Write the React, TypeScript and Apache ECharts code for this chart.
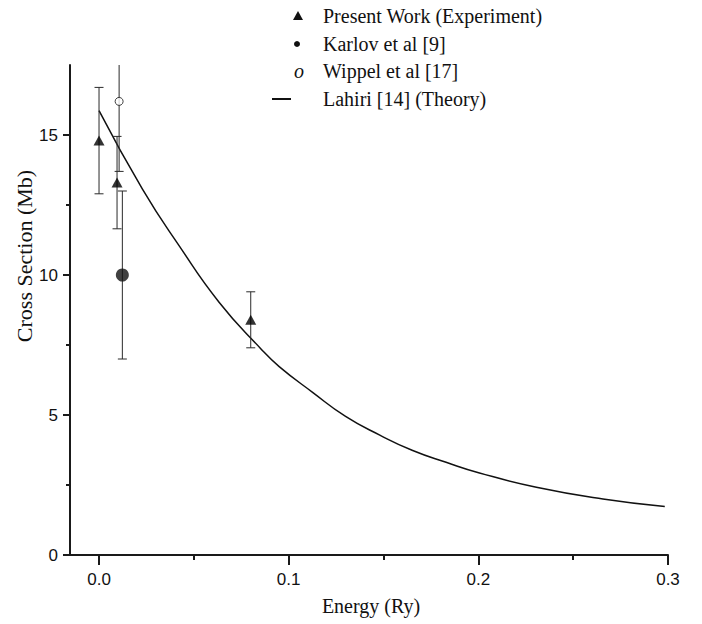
import React, { useEffect, useRef } from "react";
import * as echarts from "echarts";

// ---- data ----
const X_MIN = -0.0153;
const X_MAX = 0.3;
const Y_MIN = 0;
const Y_MAX = 17.5;
const xMajorTicks = [0, 0.1, 0.2, 0.3];
const xMinorTicks = [0.05, 0.15, 0.25];
const yMajorTicks = [0, 5, 10, 15];
const yMinorTicks = [2.5, 7.5, 12.5];

// Present Work (Experiment): energy, cross section, error
const presentE = [0, 0.0095, 0.08];
const presentV = [14.8, 13.3, 8.4];
const presentErr = [1.9, 1.65, 1.0];

// Karlov et al [9]
const karlovE = [0.0123];
const karlovV = [10.0];
const karlovErr = [3.0];

// Wippel et al [17]
const wippelE = [0.0106];
const wippelV = [16.2];
const wippelErr = [2.5];

// Lahiri [14] (Theory)
const theoryE = [0, 0.0229, 0.0422, 0.0634, 0.0854, 0.095, 0.1126, 0.13, 0.1478, 0.1654, 0.183, 0.2006, 0.2306, 0.2657, 0.2983];
const theoryV = [15.87, 13.07, 11.05, 9.02, 7.36, 6.73, 5.81, 4.95, 4.29, 3.73, 3.31, 2.93, 2.42, 2.0, 1.73];

const legendLabels = ["Present Work (Experiment)", "Karlov et al [9]", "Wippel et al [17]", "Lahiri [14] (Theory)"];

const AXIS_COLOR = "#1a1a1a";
const SANS = "'Liberation Sans', Arial, sans-serif";
const SERIF = "'Liberation Serif', 'Times New Roman', serif";

export default function App() {
  const ref = useRef<HTMLDivElement>(null);

  useEffect(() => {
    if (!ref.current) return;
    const chart = echarts.init(ref.current, null, { renderer: "svg" });

    const errData: number[][] = [];
    presentE.forEach((e, i) => errData.push([e, presentV[i] - presentErr[i], presentV[i] + presentErr[i]]));
    karlovE.forEach((e, i) => errData.push([e, karlovV[i] - karlovErr[i], karlovV[i] + karlovErr[i]]));
    wippelE.forEach((e, i) => errData.push([e, wippelV[i] - wippelErr[i], wippelV[i] + wippelErr[i]]));

    const capHalf = 4.5;
    const renderErr = (params: any, api: any) => {
      const x = api.value(0);
      const lo = api.coord([x, api.value(1)]);
      const hi = api.coord([x, api.value(2)]);
      const cs = params.coordSys;
      const top = Math.max(hi[1], cs.y);
      const bottom = Math.min(lo[1], cs.y + cs.height);
      const style = { stroke: "#2a2a2a", lineWidth: 1 };
      const children: any[] = [
        { type: "line", shape: { x1: lo[0], y1: bottom, x2: lo[0], y2: top }, style },
      ];
      if (hi[1] >= cs.y) {
        children.push({ type: "line", shape: { x1: hi[0] - capHalf, y1: hi[1], x2: hi[0] + capHalf, y2: hi[1] }, style });
      }
      if (lo[1] <= cs.y + cs.height) {
        children.push({ type: "line", shape: { x1: lo[0] - capHalf, y1: lo[1], x2: lo[0] + capHalf, y2: lo[1] }, style });
      }
      return { type: "group", children };
    };

    const legendX = 323;
    const rowY = [16, 44, 71, 99];
    const legendGraphics: any[] = [
      { type: "polygon", shape: { points: [[298, rowY[0] - 5], [303, rowY[0] + 4], [293, rowY[0] + 4]] }, style: { fill: "#111" } },
      { type: "circle", shape: { cx: 297, cy: rowY[1], r: 3 }, style: { fill: "#111" } },
      { type: "text", x: 299, y: rowY[2], style: { text: "o", font: `italic 20px ${SERIF}`, fill: "#111", align: "center", verticalAlign: "middle" } },
      { type: "line", shape: { x1: 272, y1: rowY[3], x2: 291, y2: rowY[3] }, style: { stroke: "#111", lineWidth: 2 } },
      ...legendLabels.map((t, i) => ({
        type: "text",
        x: legendX,
        y: rowY[i],
        style: { text: t, font: `20px ${SERIF}`, fill: "#111", align: "left", verticalAlign: "middle" },
      })),
      {
        type: "text",
        x: 24,
        y: 256,
        rotation: Math.PI / 2,
        style: { text: "Cross Section (Mb)", font: `22px ${SERIF}`, fill: "#111", align: "center", verticalAlign: "middle" },
      },
      {
        type: "text",
        x: 371,
        y: 606,
        style: { text: "Energy (Ry)", font: `20px ${SERIF}`, fill: "#111", align: "center", verticalAlign: "middle" },
      },
    ];

    const option: any = {
      animation: false,
      backgroundColor: "#ffffff",
      grid: { left: 70, right: 34, top: 65, bottom: 69, containLabel: false },
      xAxis: [
        {
          type: "value",
          position: "bottom",
          min: X_MIN,
          max: X_MAX,
          axisLine: { show: true, onZero: false, lineStyle: { color: AXIS_COLOR, width: 2 } },
          axisTick: { show: true, customValues: xMajorTicks, length: 10, lineStyle: { color: AXIS_COLOR, width: 2 } },
          axisLabel: {
            show: true,
            customValues: xMajorTicks,
            formatter: (v: number) => v.toFixed(1),
            margin: 16,
            fontSize: 17,
            fontFamily: SANS,
            color: "#111",
          },
          splitLine: { show: false },
        },
        {
          type: "value",
          position: "bottom",
          min: X_MIN,
          max: X_MAX,
          axisLine: { show: false, onZero: false },
          axisTick: { show: true, customValues: xMinorTicks, length: 5, lineStyle: { color: AXIS_COLOR, width: 2 } },
          axisLabel: { show: false },
          splitLine: { show: false },
        },
      ],
      yAxis: [
        {
          type: "value",
          position: "left",
          min: Y_MIN,
          max: Y_MAX,
          axisLine: { show: true, onZero: false, lineStyle: { color: AXIS_COLOR, width: 2 } },
          axisTick: { show: true, customValues: yMajorTicks, length: 7, lineStyle: { color: AXIS_COLOR, width: 2 } },
          axisLabel: {
            show: true,
            customValues: yMajorTicks,
            margin: 12,
            fontSize: 17,
            fontFamily: SANS,
            color: "#111",
          },
          splitLine: { show: false },
        },
        {
          type: "value",
          position: "left",
          min: Y_MIN,
          max: Y_MAX,
          axisLine: { show: false, onZero: false },
          axisTick: { show: true, customValues: yMinorTicks, length: 4, lineStyle: { color: AXIS_COLOR, width: 2 } },
          axisLabel: { show: false },
          splitLine: { show: false },
        },
      ],
      series: [
        {
          name: legendLabels[3],
          type: "line",
          data: theoryE.map((e, i) => [e, theoryV[i]]),
          smooth: 0.5,
          symbol: "none",
          lineStyle: { color: "#111", width: 1.5 },
          z: 2,
        },
        {
          name: "errors",
          type: "custom",
          data: errData,
          renderItem: renderErr,
          encode: { x: 0, y: [1, 2] },
          z: 3,
        },
        {
          name: legendLabels[0],
          type: "scatter",
          data: presentE.map((e, i) => [e, presentV[i]]),
          symbol: "triangle",
          symbolSize: [11, 10],
          itemStyle: { color: "#000" },
          z: 4,
        },
        {
          name: legendLabels[1],
          type: "scatter",
          data: karlovE.map((e, i) => [e, karlovV[i]]),
          symbol: "circle",
          symbolSize: 13,
          itemStyle: { color: "#111" },
          z: 4,
        },
        {
          name: legendLabels[2],
          type: "scatter",
          data: wippelE.map((e, i) => [e, wippelV[i]]),
          symbol: "circle",
          symbolSize: 8,
          itemStyle: { color: "#ffffff", borderColor: "#111", borderWidth: 1 },
          z: 4,
        },
      ],
      graphic: legendGraphics,
    };

    chart.setOption(option);
    return () => chart.dispose();
  }, []);

  return <div ref={ref} style={{ position: "fixed", left: 0, top: 0, width: 702, height: 624, background: "#fff" }} />;
}
